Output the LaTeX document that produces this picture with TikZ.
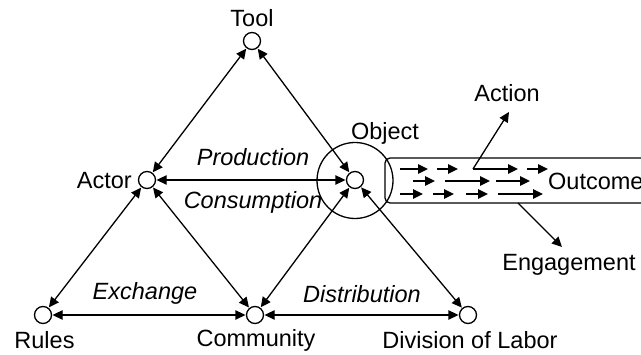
\documentclass[tikz,border=0pt]{standalone}
\usepackage{fontspec}
\setmainfont{Liberation Sans}
\usetikzlibrary{arrows.meta}
\tikzset{
  vertex/.style={circle, draw, line width=1.3pt, minimum size=17pt, inner sep=0pt, fill=white},
  lbl/.style={inner sep=0pt, font=\fontsize{23.5}{28}\selectfont},
  ilbl/.style={lbl, font=\fontsize{23.5}{28}\selectfont\itshape},
  tip/.style={Triangle[length=10pt,width=9.5pt]},
  link/.style={line width=1.3pt, {Triangle[length=10pt,width=9.5pt]}-{Triangle[length=10pt,width=9.5pt]}, shorten <=0.5pt, shorten >=0.5pt},
  flow/.style={line width=1.3pt, -{Triangle[length=10pt,width=9.5pt]}},
}
\begin{document}
\begin{tikzpicture}[x=1pt,y=-1pt]
\useasboundingbox (0,0) rectangle (641,355);

% outcome tube
\draw[line width=1.3pt, rounded corners=5pt] (660,158) -- (385,158) -- (385,203) -- (660,203);

% object ring
\node[circle, draw, line width=1.3pt, minimum size=76pt, inner sep=0pt] (ring) at (355,180.5) {};

% activity elements
\node[vertex] (tool) at (252,41) {};
\node[vertex] (actor) at (147,180) {};
\node[vertex] (object) at (355,180) {};
\node[vertex] (rules) at (43,315) {};
\node[vertex] (community) at (255,315) {};
\node[vertex] (division) at (468,315) {};

% element labels
\node[lbl] at (252,18) {Tool};
\node[lbl, anchor=east] at (132,181) {Actor};
\node[lbl] at (385,133) {Object};
\node[lbl] at (44.5,340) {Rules};
\node[lbl] at (256,340) {Community};
\node[lbl] at (470,340) {Division of Labor};

% relations
\draw[link] (tool) -- (actor);
\draw[link] (tool) -- (object);
\draw[link] (actor) -- (object);
\draw[link] (actor) -- (rules);
\draw[link] (actor) -- (community);
\draw[link] (object) -- (community);
\draw[link] (object) -- (division);
\draw[link] (rules) -- (community);
\draw[link] (community) -- (division);

% relation labels
\node[ilbl] at (253,157) {Production};
\node[ilbl] at (253,202) {Consumption};
\node[ilbl] at (145,293) {Exchange};
\node[ilbl] at (362,294) {Distribution};

% flow inside the tube
\foreach \xa/\xb/\yy in {400/428/169, 437/458/169, 473/518/169, 527/548/169,
                         413/435/181, 445/490/181, 496/530/181,
                         400/423/194, 433/454/194, 466/488/194, 498/543/194}
  \draw[flow] (\xa,\yy) -- (\xb,\yy);

% action and engagement branches
\coordinate (actstart) at (473,169);
\coordinate (acttip) at (509,112);
\coordinate (engstart) at (518,203);
\coordinate (engtip) at (562,247);
\draw[flow] (actstart) -- (acttip);
\draw[flow] (engstart) -- (engtip);

\node[lbl] at (507,93) {Action};
\node[lbl, anchor=west] at (548,181) {Outcome};
\node[lbl] at (569,265) {Engagement};
\end{tikzpicture}
\end{document}
